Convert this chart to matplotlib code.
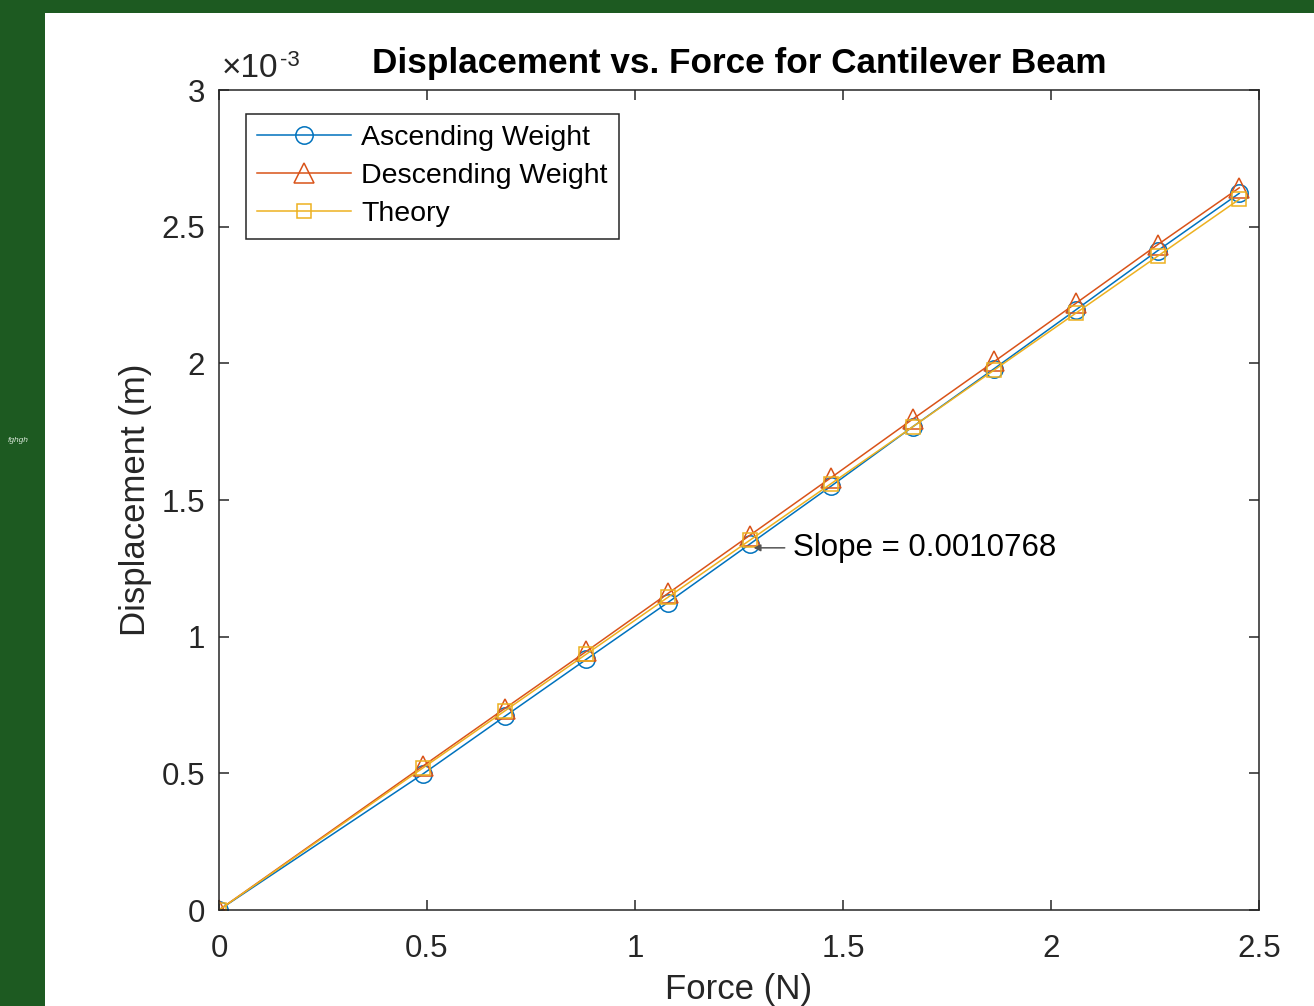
import matplotlib
matplotlib.use('Agg')
import matplotlib.pyplot as plt
from matplotlib.patches import Rectangle
from matplotlib.ticker import FuncFormatter

plt.rcParams['font.family'] = ['Liberation Sans', 'DejaVu Sans']

# force in N (masses of 50 g .. 250 g)
force = [0, 0.4905, 0.6867, 0.8829, 1.0791, 1.2753, 1.4715,
         1.6677, 1.8639, 2.0601, 2.2563, 2.4525]
# displacement in m
ascending = [0, 0.498e-3, 0.708e-3, 0.917e-3, 1.125e-3, 1.338e-3, 1.551e-3,
             1.768e-3, 1.981e-3, 2.196e-3, 2.412e-3, 2.622e-3]
descending = [0, 0.527e-3, 0.737e-3, 0.946e-3, 1.158e-3, 1.370e-3, 1.582e-3,
              1.796e-3, 2.007e-3, 2.220e-3, 2.434e-3, 2.642e-3]
theory = [0, 0.520e-3, 0.728e-3, 0.936e-3, 1.144e-3, 1.352e-3, 1.560e-3,
          1.768e-3, 1.976e-3, 2.184e-3, 2.392e-3, 2.600e-3]
series_names = ['Ascending Weight', 'Descending Weight', 'Theory']
slope_label = 'Slope = 0.0010768'
slope_point = (1.285, 1.325e-3)
slope_text = (1.38, 1.325e-3)

blue = '#0072BD'
orange = '#D95319'
yellow = '#EDB120'
dark = '#262626'

fig = plt.figure(figsize=(13.14, 10.06), dpi=100)
fig.patch.set_facecolor('#1d5a21')
fig.patches.append(Rectangle((45 / 1314, 0), 1, 1 - 13 / 1006,
                             transform=fig.transFigure, facecolor='white',
                             edgecolor='none', zorder=-10))
fig.text(18 / 1314, 1 - 440 / 1006, 'fghgh', fontsize=6, style='italic',
         color='#d8e6d8', ha='center', va='center')

ax = fig.add_axes([219 / 1314, 1 - 910 / 1006, 1040 / 1314, 820 / 1006])
ax.set_zorder(5)

ax.plot(force, ascending, '-o', color=blue, lw=1.1, ms=12.5,
        mfc='none', mew=1.1, label=series_names[0])
ax.plot(force, descending, '-^', color=orange, lw=1.1, ms=14,
        mfc='none', mew=1.1, label=series_names[1])
ax.plot(force, theory, '-s', color=yellow, lw=1.1, ms=9.5,
        mfc='none', mew=1.1, label=series_names[2])

ax.set_xlim(0, 2.5)
ax.set_ylim(0, 3e-3)
ax.set_xticks([0, 0.5, 1, 1.5, 2, 2.5])
ax.set_yticks([0, 0.5e-3, 1e-3, 1.5e-3, 2e-3, 2.5e-3, 3e-3])
ax.xaxis.set_major_formatter(FuncFormatter(lambda v, p: '%g' % v))
ax.yaxis.set_major_formatter(FuncFormatter(lambda v, p: '%g' % round(v * 1e3, 3)))

ax.tick_params(direction='in', length=7, width=1.1, colors=dark,
               labelsize=22.5, top=True, right=True)
ax.tick_params(axis='x', pad=17)
ax.tick_params(axis='y', pad=10)
for sp in ax.spines.values():
    sp.set_linewidth(1.1)
    sp.set_color(dark)

ax.set_xlabel('Force (N)', fontsize=25, color=dark, labelpad=7)
ax.set_ylabel('Displacement (m)', fontsize=25, color=dark, labelpad=7)
ax.set_title('Displacement vs. Force for Cantilever Beam', fontsize=25.3,
             fontweight='bold', color='black', pad=12)
ax.annotate('\u00d710', xy=(0, 1), xycoords='axes fraction',
            xytext=(2, 4), textcoords='offset points',
            fontsize=24, color=dark, ha='left', va='bottom')
ax.annotate('-3', xy=(0, 1), xycoords='axes fraction',
            xytext=(44, 14), textcoords='offset points',
            fontsize=16, color=dark, ha='left', va='bottom')

ax.annotate(slope_label, xy=slope_point, xytext=slope_text,
            fontsize=22.5, color='black', va='center', ha='left',
            arrowprops=dict(arrowstyle='-|>', color='#555555', lw=1.1,
                            mutation_scale=10, shrinkA=4, shrinkB=0))

leg = ax.legend(loc='upper left', bbox_to_anchor=(27 / 1040, 1 - 24 / 820),
                fontsize=20.5, frameon=True, fancybox=False, framealpha=1,
                edgecolor=dark, handlelength=3.3, handletextpad=0.35,
                labelspacing=0.42, borderpad=0.4, borderaxespad=0)
leg.get_frame().set_linewidth(1.1)

fig.savefig('out.png', dpi=100, facecolor=fig.get_facecolor())
